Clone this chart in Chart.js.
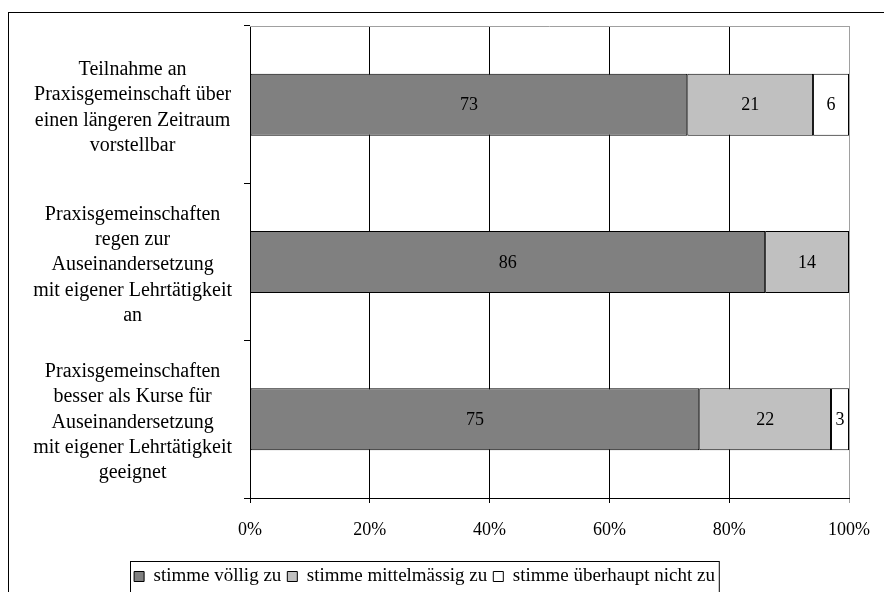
<!DOCTYPE html>
<html>
<head>
<meta charset="utf-8">
<script src="https://cdn.jsdelivr.net/npm/chart.js@4/dist/chart.umd.min.js"></script>
<style>
    body { margin: 0; background: #fff; }
    #wrap { width: 884px; height: 592px; position: relative; }
</style>
</head>
<body>
<div id="wrap"><canvas id="chart"></canvas></div>
<script>
const categories = [
    ['Teilnahme an', 'Praxisgemeinschaft über', 'einen längeren Zeitraum', 'vorstellbar'],
    ['Praxisgemeinschaften', 'regen zur', 'Auseinandersetzung', 'mit eigener Lehrtätigkeit', 'an'],
    ['Praxisgemeinschaften', 'besser als Kurse für', 'Auseinandersetzung', 'mit eigener Lehrtätigkeit', 'geeignet']
]
const seriesNames = ['stimme völlig zu', 'stimme mittelmässig zu', 'stimme überhaupt nicht zu']
const voellig = [73, 86, 75]
const mittel = [21, 14, 22]
const nicht = [6, 0, 3]
const xTicks = [0, 20, 40, 60, 80, 100]

const serif = 'Liberation Serif, Times New Roman, serif'

// outer frame, plot border and legend box
const framePlugin = {
    id: 'frame',
    beforeDraw(chart) {
        let ctx = chart.ctx
        ctx.save()
        ctx.strokeStyle = '#000'
        ctx.lineWidth = 1
        ctx.strokeRect(8.5, 12.5, 1000, 1000)
        ctx.restore()
    },
    beforeDatasetsDraw(chart) {
        let ctx = chart.ctx
        let a = chart.chartArea
        ctx.save()
        ctx.strokeStyle = '#a0a0a0'
        ctx.lineWidth = 1
        ctx.beginPath()
        ctx.moveTo(a.left, Math.round(a.top) + 0.5)
        ctx.lineTo(a.right, Math.round(a.top) + 0.5)
        ctx.stroke()
        ctx.restore()
    },
    afterDraw(chart) {
        let boxes = chart.legend.legendHitBoxes
        if (!boxes || !boxes.length) return
        let left = Math.min(...boxes.map(b => b.left)) - 4
        let right = Math.max(...boxes.map(b => b.left + b.width)) + 4
        let top = Math.min(...boxes.map(b => b.top)) - 6
        let ctx = chart.ctx
        ctx.save()
        ctx.strokeStyle = '#000'
        ctx.lineWidth = 1
        ctx.strokeRect(Math.round(left) + 0.5, Math.round(top) + 0.5, right - left, 200)
        ctx.restore()
    }
}

// value labels in the middle of each segment
const valuePlugin = {
    id: 'values',
    afterDatasetsDraw(chart) {
        let ctx = chart.ctx
        ctx.save()
        ctx.font = '18px ' + serif
        ctx.fillStyle = '#000'
        ctx.textAlign = 'center'
        ctx.textBaseline = 'middle'
        chart.data.datasets.forEach((ds, i) => {
            chart.getDatasetMeta(i).data.forEach((bar, j) => {
                let v = ds.data[j]
                if (!v) return
                ctx.fillText(String(v), (bar.x + bar.base) / 2, bar.y + 1)
            })
        })
        ctx.restore()
    }
}

const data = {
    labels: categories,
    datasets: [
        { label: seriesNames[0], data: voellig, backgroundColor: '#808080' },
        { label: seriesNames[1], data: mittel, backgroundColor: '#c0c0c0' },
        { label: seriesNames[2], data: nicht, backgroundColor: '#ffffff' }
    ].map(d => Object.assign(d, {
        borderColor: '#000',
        borderWidth: 1,
        borderSkipped: false,
        categoryPercentage: 1,
        barPercentage: 0.394
    }))
}

new Chart(document.getElementById('chart'), {
    type: 'bar',
    data,
    options: {
        indexAxis: 'y',
        responsive: true,
        maintainAspectRatio: false,
        animation: false,
        layout: {
            autoPadding: false,
            padding: { left: 0, right: 35, top: 26, bottom: -4 }
        },
        scales: {
            x: {
                stacked: true,
                min: 0,
                max: 100,
                afterBuildTicks: (scale) => {
                    scale.ticks = xTicks.map(v => ({ value: v }))
                },
                afterFit: (scale) => {
                    scale.height = 63
                    scale.paddingLeft = 0
                    scale.paddingRight = 0
                },
                ticks: {
                    callback: (v) => v + '%',
                    color: '#000',
                    font: { family: serif, size: 18 },
                    padding: 16,
                    maxRotation: 0
                },
                grid: {
                    color: (c) => c.tick && c.tick.value === 100 ? '#a0a0a0' : '#000',
                    tickLength: 5,
                    drawTicks: true
                },
                border: { display: true, color: '#000' }
            },
            y: {
                stacked: true,
                afterFit: (scale) => {
                    scale.width = 250
                    scale.paddingTop = 0
                    scale.paddingBottom = 0
                },
                ticks: {
                    crossAlign: 'center',
                    color: '#000',
                    font: { family: serif, size: 20, lineHeight: 1.265 },
                    padding: 12,
                    labelOffset: 3
                },
                grid: {
                    offset: true,
                    drawOnChartArea: false,
                    drawTicks: true,
                    tickLength: 6,
                    color: '#000'
                },
                border: { display: true, color: '#000' }
            }
        },
        plugins: {
            legend: {
                position: 'bottom',
                labels: {
                    color: '#000',
                    font: { family: serif, size: 19 },
                    boxWidth: 10,
                    boxHeight: 10,
                    padding: 6
                }
            },
            tooltip: { enabled: false }
        }
    },
    plugins: [framePlugin, valuePlugin]
})
</script>
</body>
</html>
